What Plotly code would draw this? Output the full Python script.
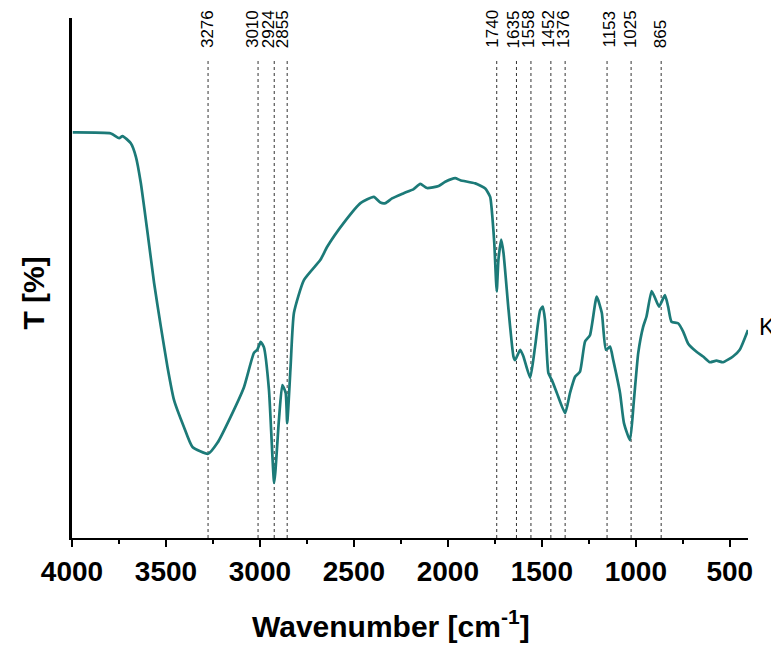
import plotly.graph_objects as go

# FTIR spectrum (sample K)
wavenumber = [3996, 3793, 3749, 3731, 3687, 3660, 3634, 3598, 3563, 3527, 3492, 3457,
              3404, 3359, 3276, 3226, 3156, 3085, 3032, 3014, 2996, 2979, 2952, 2924,
              2899, 2881, 2863, 2855, 2837, 2819, 2766, 2678, 2642, 2554, 2465, 2394,
              2359, 2332, 2297, 2235, 2182, 2147, 2111, 2049, 2014, 1961, 1934, 1854,
              1801, 1775, 1762, 1753, 1740, 1731, 1716, 1704, 1677, 1651, 1642, 1615,
              1598, 1562, 1536, 1509, 1495, 1483, 1465, 1447, 1420, 1376, 1350, 1323,
              1297, 1270, 1244, 1208, 1181, 1159, 1137, 1120, 1084, 1063, 1031, 1010,
              987, 961, 943, 916, 898, 876, 845, 828, 810, 775, 748, 722, 677, 642,
              606, 571, 536, 483, 447, 403]
transmittance = [78.0, 77.8, 76.9, 77.3, 75.9, 73.3, 68.3, 58.7, 49.0, 40.6, 32.9, 26.5,
                 21.3, 17.5, 16.2, 18.3, 23.3, 29.0, 35.6, 36.2, 37.7, 36.7, 28.5, 10.6,
                 22.7, 29.4, 27.9, 22.1, 32.9, 43.3, 49.6, 53.5, 56.0, 60.6, 64.4, 65.6,
                 64.5, 64.4, 65.3, 66.3, 67.1, 68.1, 67.3, 67.7, 68.5, 69.2, 68.8, 68.2,
                 67.2, 65.6, 61.2, 56.7, 47.4, 53.5, 57.4, 54.8, 43.8, 34.9, 34.2, 36.2,
                 34.9, 30.8, 36.8, 43.8, 44.5, 41.9, 31.7, 30.4, 27.9, 24.0, 27.9, 31.0,
                 32.0, 37.8, 39.0, 46.4, 43.3, 36.2, 36.8, 34.2, 27.9, 22.1, 18.8, 26.5,
                 35.6, 40.6, 42.6, 47.5, 46.2, 44.5, 46.7, 44.5, 41.6, 41.3, 39.7, 37.4,
                 35.8, 34.9, 33.8, 34.1, 33.8, 34.9, 36.2, 40.0]

peak_positions = [3276, 3010, 2924, 2855, 1740, 1635, 1558, 1452, 1376, 1153, 1025, 865]
peak_labels = ["3276", "3010", "2924", "2855", "1740", "1635", "1558", "1452", "1376",
               "1153", "1025", "865"]
label_shift = [0, -5, -5, -4, -4, -2, -2, -2, -1, 2, 0, 0]

tick_values = [4000, 3500, 3000, 2500, 2000, 1500, 1000, 500]
tick_text = ["4000", "3500", "3000", "2500", "2000", "1500", "1000", "500"]
series_name = "K"

FONT = "Liberation Sans, Arial, sans-serif"
LINE_COLOR = "#1c7a78"

fig = go.Figure()
fig.add_trace(go.Scatter(
    x=wavenumber, y=transmittance, mode="lines", name=series_name,
    line=dict(color=LINE_COLOR, width=2.7, shape="spline", smoothing=0.5),
    showlegend=False, hoverinfo="x+y"))

# dotted marker lines and rotated labels
for p, lab, sh in zip(peak_positions, peak_labels, label_shift):
    fig.add_shape(type="line", xref="x", yref="y", x0=p, x1=p, y0=0, y1=92.3,
                  line=dict(color="#333333", width=1, dash="dot"), layer="below")
    fig.add_annotation(x=p, xref="x", y=0.9385, yref="paper", text=lab,
                       textangle=-90, showarrow=False, xanchor="center",
                       yanchor="bottom", xshift=sh,
                       font=dict(family=FONT, size=17, color="black"))

# series label at end of curve
fig.add_annotation(x=1.0, xref="paper", y=transmittance[-1], yref="y",
                   text=series_name, showarrow=False, xanchor="left", yanchor="middle",
                   xshift=9, yshift=4, font=dict(family=FONT, size=24, color="black"))

# axis titles as annotations
fig.add_annotation(x=-0.057, xref="paper", y=0.471, yref="paper", text="<b>T [%]</b>",
                   textangle=-90, showarrow=False, xanchor="center", yanchor="middle",
                   font=dict(family=FONT, size=30, color="black"))
fig.add_annotation(x=0.472, xref="paper", y=-0.166, yref="paper",
                   text="<b>Wavenumber [cm<sup>-1</sup>]</b>",
                   showarrow=False, xanchor="center", yanchor="middle",
                   font=dict(family=FONT, size=30, color="black"))

# page body has an 8px margin, so the figure is sized/offset to compensate
fig.update_layout(
    width=771, height=637,
    margin=dict(l=64, r=31, t=10, b=107),
    paper_bgcolor="white", plot_bgcolor="white",
    xaxis=dict(
        range=[4000, 403], showgrid=False, zeroline=False,
        showline=True, linecolor="black", linewidth=2,
        tickmode="array", tickvals=tick_values, ticktext=tick_text,
        ticks="outside", ticklen=7, tickwidth=2, tickcolor="black",
        minor=dict(dtick=250, tick0=0, ticks="outside", ticklen=4, tickwidth=2,
                   tickcolor="black", showgrid=False),
        tickfont=dict(family=FONT, size=28, color="black", weight="bold"),
    ),
    yaxis=dict(
        range=[0, 100], showgrid=False, zeroline=False,
        showline=True, linecolor="black", linewidth=2.5,
        showticklabels=False, ticks="",
    ),
)

fig.write_html("out.html")
